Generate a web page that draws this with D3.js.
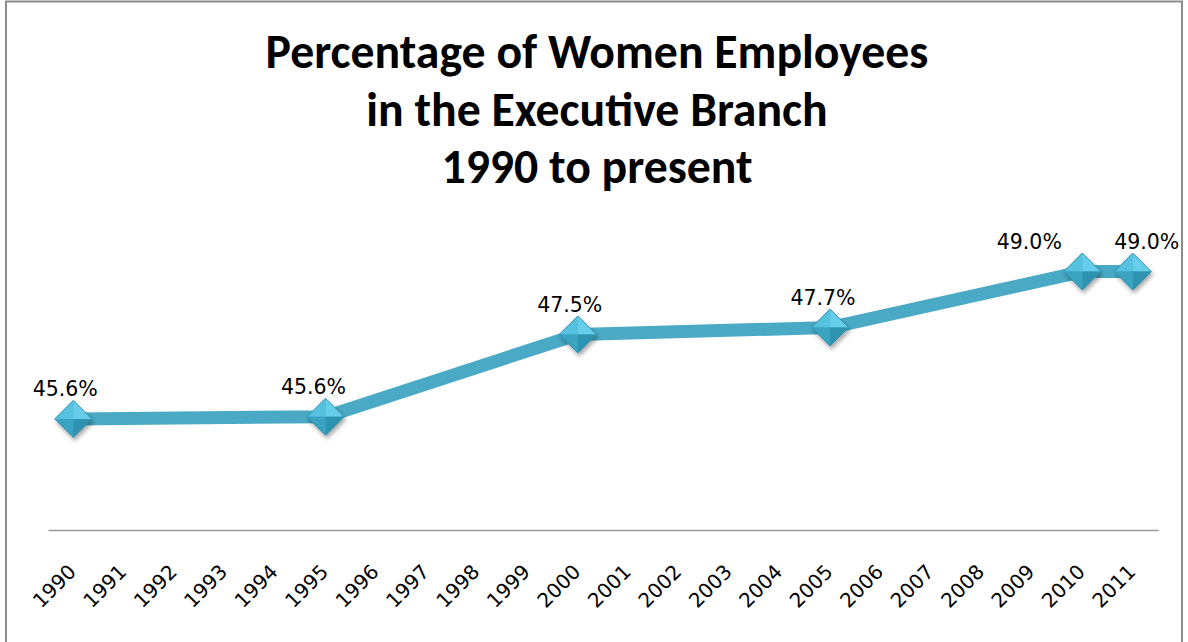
<!DOCTYPE html>
<html>
<head>
<meta charset="utf-8">
<script src="https://cdn.jsdelivr.net/npm/d3@7"></script>
<style>
  html, body { margin: 0; padding: 0; background: #fff; }
  svg { display: block; }
</style>
</head>
<body>
<svg id="chart" width="1188" height="642"></svg>
<script>
// ---- data ----
const titleLines = ["Percentage of Women Employees", "in the Executive Branch", "1990 to present"];
const years = ["1990","1991","1992","1993","1994","1995","1996","1997","1998","1999","2000",
               "2001","2002","2003","2004","2005","2006","2007","2008","2009","2010","2011"];
const pointYears = ["1990", "1995", "2000", "2005", "2010", "2011"];
const pointValues = [45.58, 45.63, 47.54, 47.70, 49.0, 49.0];

// ---- layout ----
const W = 1188, H = 642;
const plot = { left: 48, right: 1158, top: 228.5, bottom: 530 };
const labelShift = [-8, -12, -8, -7, -53, 14];   // horizontal nudges of the data labels

const svg = d3.select("#chart");

// frame
svg.append("path")
  .attr("d", `M6,${H + 2} L6,1.5 L1182,1.5 L1182,${H + 2}`)
  .attr("fill", "none").attr("stroke", "#8c8c8c").attr("stroke-width", 2);

// defs: shadow
const defs = svg.append("defs");
const f = defs.append("filter").attr("id", "shadow")
  .attr("x", "-50%").attr("y", "-50%").attr("width", "200%").attr("height", "200%");
f.append("feDropShadow").attr("dx", 1.5).attr("dy", 3).attr("stdDeviation", 2)
  .attr("flood-color", "#000").attr("flood-opacity", 0.35);

// title
const title = svg.append("g").attr("font-family", "Carlito, Lato, 'Open Sans', sans-serif")
  .attr("font-weight", "bold").attr("fill", "#000").attr("text-anchor", "middle");
const baselines = [68, 126, 183];
const tNodes = titleLines.map((t, i) =>
  title.append("text").attr("x", 597).attr("y", baselines[i]).attr("font-size", 36).text(t));
const w0 = tNodes[0].node().getComputedTextLength();
const fs = 36 * 663 / w0;
tNodes.forEach(n => n.attr("font-size", fs.toFixed(2)));

// scales
const x = d3.scaleBand().domain(years).range([plot.left, plot.right]);
const y = d3.scaleLinear().domain([43, 50]).range([plot.bottom, plot.top]);
const cx = yr => x(yr) + x.bandwidth() / 2;

// x axis
const xAxis = d3.axisBottom(x).tickSize(0).tickPadding(0);
const gx = svg.append("g").attr("transform", `translate(0,${plot.bottom})`).call(xAxis);
gx.select(".domain").attr("stroke", "#9a9a9a").attr("stroke-width", 1.6);
gx.selectAll(".tick text")
  .attr("font-family", "'DejaVu Sans', Verdana, sans-serif")
  .attr("font-size", 20).attr("fill", "#000")
  .attr("text-anchor", "end").attr("dy", 0).attr("y", 0)
  .attr("transform", "translate(4,43) rotate(-45)");

// data
const pts = pointYears.map((yr, i) => ({ yr, v: pointValues[i], i }));

// line
svg.append("path")
  .datum(pts)
  .attr("fill", "none")
  .attr("stroke", "#4aaac5")
  .attr("stroke-width", 13)
  .attr("stroke-linejoin", "round")
  .attr("d", d3.line().x(d => cx(d.yr)).y(d => y(d.v)));

// markers (beveled diamonds)
const r = 18.5;
const mk = svg.append("g").selectAll("g").data(pts).join("g")
  .attr("transform", d => `translate(${cx(d.yr)},${y(d.v)})`)
  .attr("filter", "url(#shadow)");
mk.append("path").attr("d", `M${-r},0 L0,${-r} L${r},0 L0,${r} Z`).attr("fill", "#3aa5c3");
const facets = [
  { d: `M${-r},0 L0,${-r} L0,0 Z`, c: "#56c2e0" },
  { d: `M0,${-r} L${r},0 L0,0 Z`, c: "#66cdea" },
  { d: `M${r},0 L0,${r} L0,0 Z`, c: "#2e93b1" },
  { d: `M0,${r} L${-r},0 L0,0 Z`, c: "#3aa3c2" }
];
facets.forEach(fc => mk.append("path").attr("d", fc.d).attr("fill", fc.c));
mk.append("path").attr("d", `M${-r},0 L0,${-r} L${r},0 L0,${r} Z`)
  .attr("fill", "none").attr("stroke", "#2a8aa8").attr("stroke-width", 0.8);

// data labels
const fmt = d3.format(".1f");
svg.append("g").selectAll("text").data(pts).join("text")
  .attr("x", d => cx(d.yr) + labelShift[d.i])
  .attr("y", d => y(d.v) - 22.5)
  .attr("text-anchor", "middle")
  .attr("font-family", "'DejaVu Sans', Verdana, sans-serif")
  .attr("font-size", 20.5).attr("fill", "#000")
  .text(d => fmt(d.v) + "%");
</script>
</body>
</html>
